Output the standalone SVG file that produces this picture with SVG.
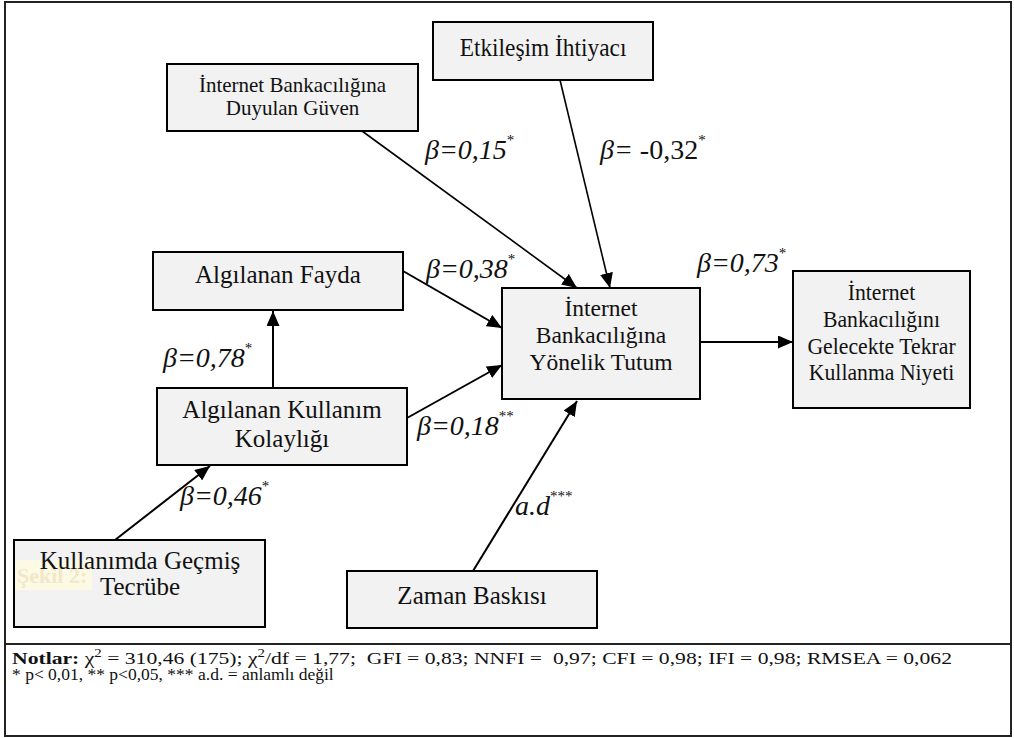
<svg xmlns="http://www.w3.org/2000/svg" width="1014" height="738" viewBox="0 0 1014 738">
<style>
  .box { fill: #f2f2f2; stroke: #000; stroke-width: 2; }
  .nt { font-family: "Liberation Serif", "Times New Roman", serif; font-size: 25px; fill: #111; text-anchor: middle; }
  .nts { font-family: "Liberation Serif", "Times New Roman", serif; font-size: 23.5px; fill: #111; text-anchor: middle; }
  .ntg { font-family: "Liberation Serif", "Times New Roman", serif; font-size: 21px; fill: #111; text-anchor: middle; }
  .lbl { font-family: "Liberation Serif", "Times New Roman", serif; font-size: 28px; font-style: italic; fill: #111; }
  .up { font-style: normal; }
  .sup { font-size: 15px; font-style: normal; }
  .edge { stroke: #000; stroke-width: 2; fill: none; marker-end: url(#ah); }
  .thin { stroke-width: 1.6; }
  .note { font-family: "Liberation Serif", "Times New Roman", serif; font-size: 17.5px; fill: #111; }
  .frame { fill: #fff; stroke: #222; stroke-width: 2; }
</style>
<defs>
  <marker id="ah" markerUnits="userSpaceOnUse" markerWidth="15" markerHeight="13" refX="15" refY="6.5" orient="auto">
    <path d="M0,0 L15,6.5 L0,13 z" fill="#000"/>
  </marker>
</defs>
<rect class="frame" x="5" y="2" width="1006" height="734"/>
<line x1="5" y1="644" x2="1011" y2="644" stroke="#222" stroke-width="2"/>

<g id="connectors">
  <line class="edge thin" x1="362" y1="131" x2="577" y2="288"/>
  <line class="edge thin" x1="560" y1="80" x2="610" y2="288"/>
  <line class="edge" x1="403" y1="271" x2="502" y2="328"/>
  <line class="edge" x1="407" y1="418" x2="502" y2="365"/>
  <line class="edge" x1="273" y1="388" x2="273" y2="311"/>
  <line class="edge" x1="115" y1="540" x2="210" y2="466"/>
  <line class="edge" x1="473" y1="571" x2="577" y2="401"/>
  <line class="edge" x1="700" y1="342" x2="793" y2="342"/>
</g>

<g id="edge-labels">
  <text class="lbl" x="425" y="159">β=0,15<tspan class="sup" dy="-14">*</tspan></text>
  <text class="lbl" x="600" y="159">β=<tspan class="up"> -0,32</tspan><tspan class="sup" dy="-14">*</tspan></text>
  <text class="lbl" x="426" y="278">β=0,38<tspan class="sup" dy="-14">*</tspan></text>
  <text class="lbl" x="163" y="367">β=0,78<tspan class="sup" dy="-14">*</tspan></text>
  <text class="lbl" x="417" y="435">β=0,18<tspan class="sup" dy="-14">**</tspan></text>
  <text class="lbl" x="180" y="505">β=0,46<tspan class="sup" dy="-14">*</tspan></text>
  <text class="lbl" x="515" y="515">a.d<tspan class="sup" dy="-14">***</tspan></text>
  <text class="lbl" x="697" y="272">β=0,73<tspan class="sup" dy="-14">*</tspan></text>
</g>

<g id="etkilesim">
  <rect class="box" x="433" y="22" width="220" height="58"/>
  <g transform="translate(543,0) scale(0.935,1)">
    <text class="nt" x="0" y="56" font-size="24">Etkileşim İhtiyacı</text>
  </g>
</g>
<g id="guven">
  <rect class="box" x="167" y="64" width="251" height="67"/>
  <text class="ntg" x="292.5" y="92">İnternet Bankacılığına</text>
  <text class="ntg" x="292.5" y="115">Duyulan Güven</text>
</g>
<g id="fayda">
  <rect class="box" x="153" y="252" width="250" height="58"/>
  <text class="nt" x="278" y="283">Algılanan Fayda</text>
</g>
<g id="kolaylik">
  <rect class="box" x="157" y="388" width="250" height="77"/>
  <text class="nt" x="282" y="418">Algılanan Kullanım</text>
  <text class="nt" x="282" y="447">Kolaylığı</text>
</g>
<g id="tutum">
  <rect class="box" x="502" y="288" width="198" height="111"/>
  <text class="nts" x="601" y="316">İnternet</text>
  <text class="nts" x="601" y="343">Bankacılığına</text>
  <text class="nts" x="601" y="370">Yönelik Tutum</text>
</g>
<g id="niyet">
  <rect class="box" x="793" y="271" width="177" height="137"/>
  <g transform="translate(881.5,0) scale(0.925,1)">
    <text class="nts" x="0" y="300">İnternet</text>
    <text class="nts" x="0" y="327">Bankacılığını</text>
    <text class="nts" x="0" y="354">Gelecekte Tekrar</text>
    <text class="nts" x="0" y="380">Kullanma Niyeti</text>
  </g>
</g>
<g id="tecrube">
  <rect class="box" x="14" y="540" width="251" height="87"/>
  <rect x="15" y="560" width="77" height="30" fill="#fcf9e4"/>
  <text x="17" y="583" font-family="Liberation Serif, serif" font-size="22" font-weight="bold" fill="#f0e8c8">Şekil 2:</text>
  <text class="nt" x="140" y="569">Kullanımda Geçmiş</text>
  <text class="nt" x="140" y="595">Tecrübe</text>
</g>
<g id="zaman">
  <rect class="box" x="347" y="571" width="250" height="57"/>
  <text class="nt" x="472" y="604">Zaman Baskısı</text>
</g>

<g id="notes">
  <text class="note" x="12" y="664" font-size="19" textLength="940" lengthAdjust="spacingAndGlyphs" xml:space="preserve"><tspan font-weight="bold">Notlar:</tspan> χ<tspan font-size="12" dy="-7">2</tspan><tspan dy="7"> = 310,46 (175); χ</tspan><tspan font-size="12" dy="-7">2</tspan><tspan dy="7">/df = 1,77;  GFI = 0,83; NNFI =  0,97; CFI = 0,98; IFI = 0,98; RMSEA = 0,062</tspan></text>
  <text class="note" x="12" y="680" xml:space="preserve">* p&lt; 0,01, ** p&lt;0,05, *** a.d. = anlamlı değil</text>
</g>
</svg>
